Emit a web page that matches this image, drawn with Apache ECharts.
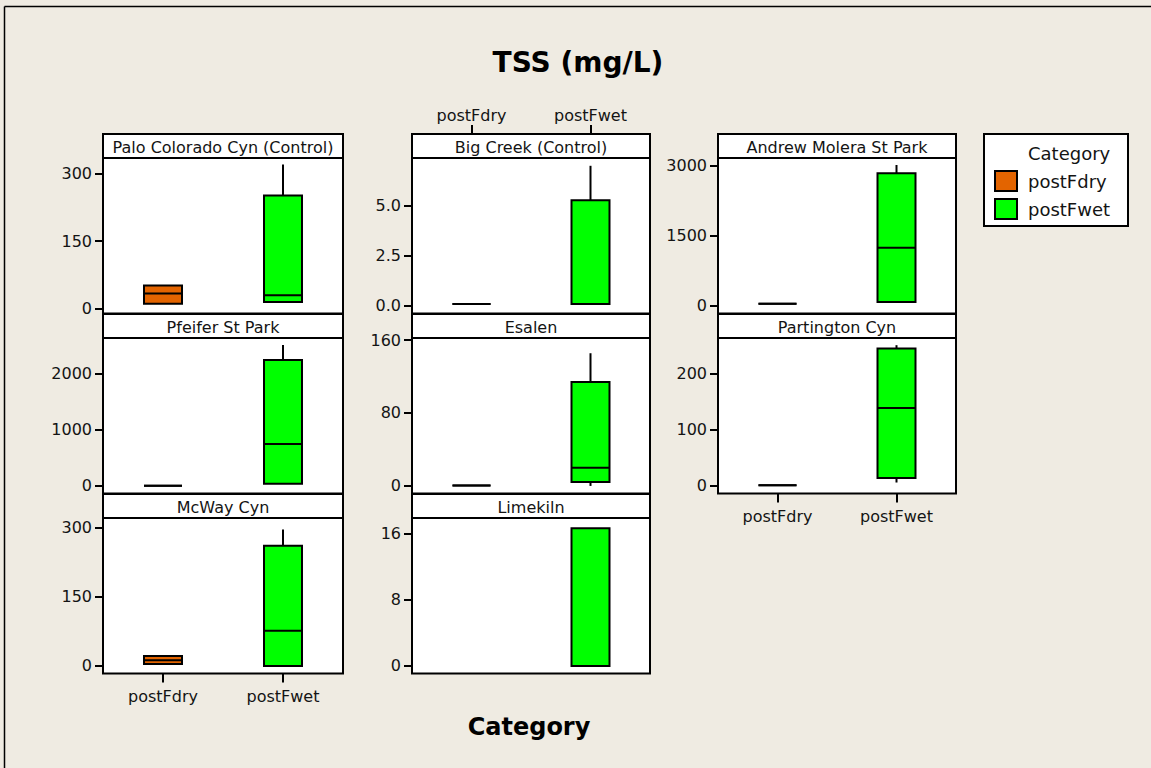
<!DOCTYPE html>
<html>
<head>
<meta charset="utf-8">
<script src="https://cdn.jsdelivr.net/npm/echarts@6/dist/echarts.min.js"></script>
<style>
html,body{margin:0;padding:0;background:#EFEBE2;}
#chart{width:1151px;height:768px;}
</style>
</head>
<body>
<div id="chart"></div>
<script>
// ---------- DATA ----------
const categories = ['postFdry', 'postFwet'];
const panelNames = [
  'Palo Colorado Cyn (Control)', 'Big Creek (Control)', 'Andrew Molera St Park',
  'Pfeifer St Park', 'Esalen', 'Partington Cyn',
  'McWay Cyn', 'Limekiln'
];
// [min, Q1, median, Q3, max]
const postFdry = [
  [10, 10, 33, 51, 51],
  [0.08, 0.08, 0.08, 0.08, 0.08],
  [43, 43, 43, 43, 43],
  [4, 4, 4, 4, 4],
  [0.5, 0.5, 0.5, 0.5, 0.5],
  [1, 1, 1, 1, 1],
  [4.3, 4.3, 12.2, 21.4, 21.4],
  null
];
const postFwet = [
  [14, 14, 29, 252, 321],
  [0.08, 0.08, 0.08, 5.28, 7.0],
  [79, 79, 1243, 2837, 3015],
  [36, 36, 745, 2245, 2512],
  [0, 4.4, 19.8, 114, 145.5],
  [6, 14, 139, 245, 251],
  [0, 0, 76.5, 261, 296],
  [0, 0, 0, 16.65, 16.65]
];
const yTickValues = [
  [0, 150, 300], [0, 2.5, 5], [0, 1500, 3000],
  [0, 1000, 2000], [0, 80, 160], [0, 100, 200],
  [0, 150, 300], [0, 8, 16]
];
const yTickDecimals = [0, 1, 0, 0, 0, 0, 0, 0];
const yRanges = [
  [-11.6, 335.7], [-0.39, 7.39], [-167, 3165],
  [-136, 2637], [-8.3, 162.2], [-13.6, 263.8],
  [-16.5, 321], [-0.92, 17.9]
];
const xLabelPos = [null, 'top', null, null, null, 'bottom', 'bottom', null];
const titleText = 'TSS (mg/L)';
const xAxisTitle = 'Category';
const legendTitle = 'Category';

// ---------- LAYOUT ----------
const colLeft = [103, 412, 718];
const colWidth = [240, 238, 238];
const rowTop = [134, 314, 494];
const headerH = 24;
const plotH = 155.5;
const colors = { postFdry: '#E36400', postFwet: '#00FF00' };
const FONT = '"DejaVu Sans", Verdana, sans-serif';
const TXT = '#141414';

const chart = echarts.init(document.getElementById('chart'), null, { renderer: 'svg' });

const grids = [], xAxes = [], yAxes = [], series = [], graphics = [];

function renderBox(params, api) {
  const v = [api.value(1), api.value(2), api.value(3), api.value(4), api.value(5)];
  const cat = api.value(0);
  const x = api.coord([cat, v[0]])[0];
  const y = val => api.coord([cat, val])[1];
  const hw = 19;
  const col = api.visual('color');
  const children = [];
  const ls = { stroke: '#000', lineWidth: 2 };
  if (v[4] > v[3]) children.push({ type: 'line', shape: { x1: x, y1: y(v[3]), x2: x, y2: y(v[4]) }, style: ls });
  if (v[0] < v[1]) children.push({ type: 'line', shape: { x1: x, y1: y(v[1]), x2: x, y2: y(v[0]) }, style: ls });
  children.push({ type: 'rect', shape: { x: x - hw, y: y(v[3]), width: hw * 2, height: y(v[1]) - y(v[3]) },
    style: { fill: col, stroke: '#000', lineWidth: 2 } });
  children.push({ type: 'line', shape: { x1: x - hw, y1: y(v[2]), x2: x + hw, y2: y(v[2]) }, style: ls });
  return { type: 'group', children };
}

panelNames.forEach((name, i) => {
  const r = Math.floor(i / 3), c = i % 3;
  const left = colLeft[c], width = colWidth[c];
  const top = rowTop[r] + headerH;
  grids.push({ left, top, width, height: plotH, show: true, backgroundColor: '#fff',
    borderColor: '#000', borderWidth: 2, containLabel: false });
  const pos = xLabelPos[i];
  xAxes.push({
    type: 'category', gridIndex: i, data: categories, boundaryGap: true,
    position: pos === 'top' ? 'top' : 'bottom',
    offset: pos === 'top' ? headerH : 0,
    axisLine: { show: false, onZero: false },
    axisTick: { show: !!pos, alignWithLabel: true, length: 9, lineStyle: { color: '#000', width: 2 } },
    axisLabel: { show: !!pos, margin: pos === 'top' ? 11 : 15, color: TXT, fontSize: 16, fontFamily: FONT },
    splitLine: { show: false }
  });
  const dec = yTickDecimals[i];
  yAxes.push({
    type: 'value', gridIndex: i, min: yRanges[i][0], max: yRanges[i][1],
    axisLine: { show: false, onZero: false },
    splitLine: { show: false },
    axisTick: { show: true, customValues: yTickValues[i], length: 8, lineStyle: { color: '#000', width: 2 } },
    axisLabel: { show: true, customValues: yTickValues[i], margin: 11, color: TXT, fontSize: 16, fontFamily: FONT,
      formatter: v => Number(v).toFixed(dec) }
  });
  [['postFdry', postFdry[i]], ['postFwet', postFwet[i]]].forEach(([sn, st], k) => {
    series.push({
      type: 'custom', name: sn, xAxisIndex: i, yAxisIndex: i, clip: false,
      itemStyle: { color: colors[sn] },
      dimensions: ['cat', 'min', 'q1', 'med', 'q3', 'max'],
      encode: { x: 0, y: [1, 2, 3, 4, 5] },
      renderItem: renderBox,
      data: st ? [[k].concat(st)] : []
    });
  });
  // header strip
  graphics.push({
    type: 'rect', z: 10,
    shape: { x: left, y: rowTop[r], width, height: headerH },
    style: { fill: '#fff', stroke: '#000', lineWidth: 2 }
  });
  graphics.push({
    type: 'text', z: 11, x: left + width / 2, y: rowTop[r] + headerH / 2 + 1,
    style: { text: name, align: 'center', verticalAlign: 'middle', font: '16px ' + FONT, fill: TXT }
  });
});

// outer frame lines
graphics.push({ type: 'line', z: 1, shape: { x1: 4.5, y1: 6.5, x2: 1151, y2: 6.5 }, style: { stroke: '#000', lineWidth: 1.5 } });
graphics.push({ type: 'line', z: 1, shape: { x1: 4.5, y1: 6.5, x2: 4.5, y2: 768 }, style: { stroke: '#000', lineWidth: 1.5 } });
// legend box
graphics.push({ type: 'rect', z: 1, shape: { x: 984, y: 134, width: 144, height: 92 },
  style: { fill: '#fff', stroke: '#000', lineWidth: 2 } });
graphics.push({ type: 'text', z: 2, x: 1028, y: 153,
  style: { text: legendTitle, align: 'left', verticalAlign: 'middle', font: '18px ' + FONT, fill: TXT } });
// x axis title
graphics.push({ type: 'text', z: 2, x: 529, y: 727,
  style: { text: xAxisTitle, align: 'center', verticalAlign: 'middle', font: 'bold 24px ' + FONT, fill: '#000' } });
// main title
graphics.push({ type: 'text', z: 2, x: 578, y: 62,
  style: { text: titleText, align: 'center', verticalAlign: 'middle', font: 'bold 28px ' + FONT, fill: '#000' } });

chart.setOption({
  backgroundColor: '#EFEBE2',
  animation: false,
  grid: grids,
  xAxis: xAxes,
  yAxis: yAxes,
  legend: {
    data: categories, orient: 'vertical', left: 994, top: 170, itemGap: 6, padding: 0,
    itemWidth: 22, itemHeight: 20, icon: 'rect',
    itemStyle: { borderColor: '#000', borderWidth: 2 },
    textStyle: { fontSize: 18, fontFamily: FONT, color: TXT, padding: [0, 0, 0, 6], lineHeight: 20 },
    selectedMode: false
  },
  graphic: graphics,
  series
});
</script>
</body>
</html>
